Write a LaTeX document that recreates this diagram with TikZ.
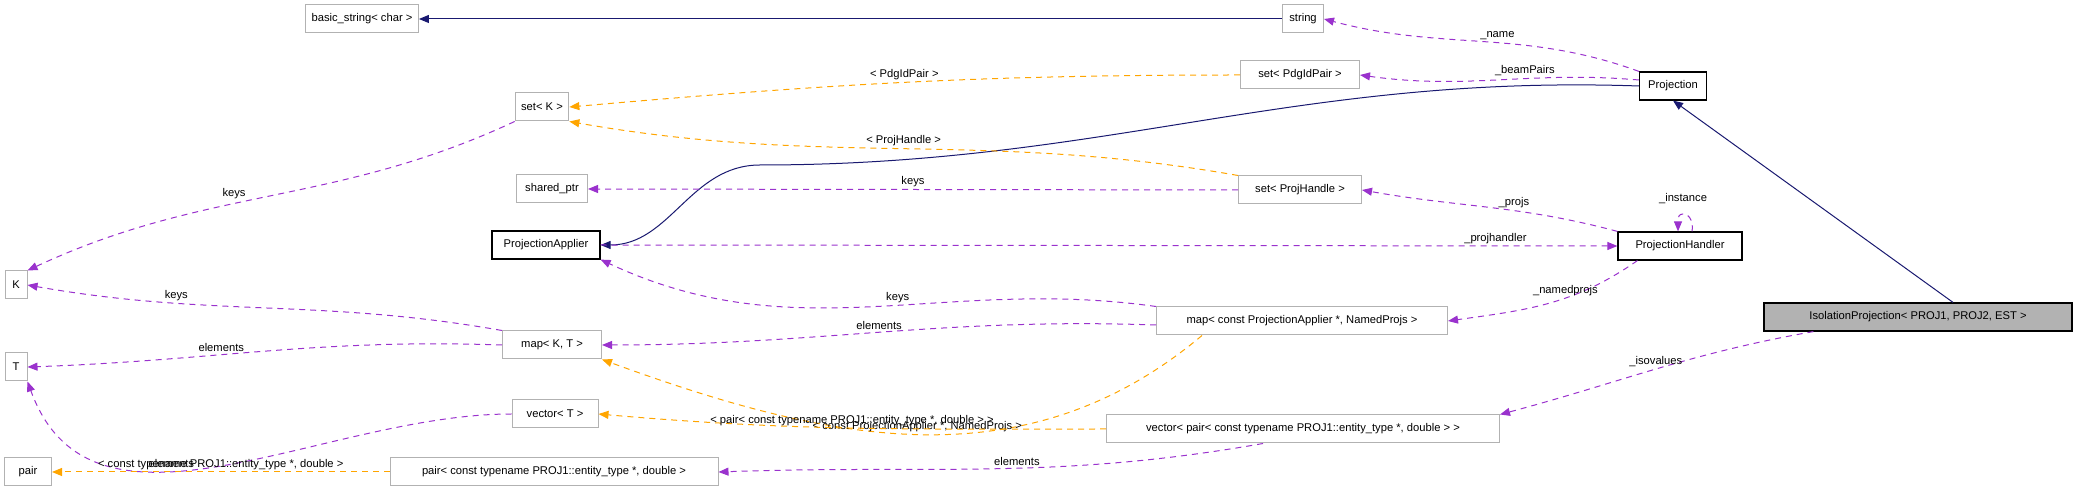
\documentclass[tikz,border=0pt]{standalone}
\usepackage{fontspec}
\setmainfont{Liberation Sans}
\usetikzlibrary{arrows.meta,positioning,calc}
\definecolor{edgenavy}{RGB}{25,25,112}
\definecolor{usepurple}{RGB}{154,50,205}
\definecolor{tmplorange}{RGB}{255,165,0}
\begin{document}
\begin{tikzpicture}[x=0.5pt, y=-0.5pt,
  font=\fontsize{5.6}{6.5}\selectfont,
  cls/.style={draw=gray!60, line width=0.5pt, minimum height=14pt, inner xsep=3pt},
  clsmain/.style={draw=black, line width=0.6pt, minimum height=14pt, inner xsep=3pt},
  inherit/.style={draw=edgenavy, line width=0.5pt, -{Triangle[length=5pt,width=4pt]}},
  usage/.style={draw=usepurple, dashed, dash pattern=on 3pt off 2.5pt, line width=0.5pt, -{Triangle[length=5pt,width=4pt]}},
  tmpl/.style={draw=tmplorange, dashed, dash pattern=on 3pt off 2.5pt, line width=0.5pt, -{Triangle[length=5pt,width=4pt]}},
  lbl/.style={inner sep=1pt}]
  \useasboundingbox (0,0) rectangle (2077,501);
  % classes
  \node[cls, minimum width=45.5pt] (basicstr) at (362,19) {basic\_string< char >};
  \node[cls, minimum width=20.5pt] (str) at (1303,19) {string};
  \node[cls, minimum width=59.5pt] (setpdg) at (1300,75) {set< PdgIdPair >};
  \node[cls, minimum width=26pt] (setk) at (542,107) {set< K >};
  \node[clsmain, minimum width=33.5pt] (proj) at (1673,86) {Projection};
  \node[cls, minimum width=35.5pt] (sptr) at (552,189) {shared\_ptr};
  \node[cls, minimum width=61.5pt] (setph) at (1300,190) {set< ProjHandle >};
  \node[clsmain, minimum width=54pt] (papp) at (546,245) {ProjectionApplier};
  \node[clsmain, minimum width=62pt] (phand) at (1680,246) {ProjectionHandler};
  \node[cls, minimum width=11pt] (k) at (16,285) {K};
  \node[cls, minimum width=145.5pt] (mapnp) at (1302,321) {map< const ProjectionApplier *, NamedProjs >};
  \node[clsmain, fill=gray!60, minimum width=154pt] (iso) at (1918,317) {IsolationProjection< PROJ1, PROJ2, EST >};
  \node[cls, minimum width=49.5pt] (mapkt) at (552,345) {map< K, T >};
  \node[cls, minimum width=11pt] (t) at (16,367) {T};
  \node[cls, minimum width=43pt] (vect) at (555,414) {vector< T >};
  \node[cls, minimum width=196.5pt] (vecpair) at (1303,429) {vector< pair< const typename PROJ1::entity\_type *, double > >};
  \node[cls, minimum width=23.5pt] (pair) at (28,472) {pair};
  \node[cls, minimum width=164pt] (pairct) at (554,472) {pair< const typename PROJ1::entity\_type *, double >};
  % inheritance
  \draw[inherit] (str) -- (basicstr);
  \draw[inherit] ($(iso.north)+(35,0)$) -- (proj.south);
  \draw[inherit] (proj.west) to[out=178,in=0] (760,165) to[out=180,in=0] (papp.east);
  % usage
  \draw[usage] (proj.north west) to[out=160,in=-15] node[lbl, pos=0.45, above] {\_name} (str.east);
  \draw[usage] ($(proj.west)+(0,-6)$) to[out=175,in=-8] node[lbl, pos=0.4, above] {\_beamPairs} (setpdg.east);
  \draw[usage] (setk.south west) to[out=-155,in=25] node[lbl, pos=0.55, above left] {keys} (k.north east);
  \draw[usage] (setph.west) -- node[lbl, above] {keys} (sptr.east);
  \draw[usage] (phand.north west) to[out=165,in=-10] node[lbl, pos=0.4, above] {\_projs} (setph.east);
  \draw[usage] ($(phand.north)+(12,0)$) to[out=80,in=0] (1683,214) to[out=180,in=90] ($(phand.north)+(-2,0)$);
  \node[lbl] (instlbl) at (1683,199) {\_instance};
  \draw[usage] (papp.east) -- node[lbl, above, pos=0.88] {\_projhandler} (phand.west);
  \draw[usage] ($(phand.south west)+(20,0)$) to[out=-145,in=8] node[lbl, pos=0.4, above] {\_namedprojs} (mapnp.east);
  \draw[usage] (mapnp.north west) to[out=172,in=-25] node[lbl, pos=0.45, above] {keys} (papp.south east);
  \draw[usage] ($(mapnp.west)+(0,4)$) to[out=178,in=0] node[lbl, pos=0.5, above] {elements} (mapkt.east);
  \draw[usage] (mapkt.north west) to[out=170,in=-10] node[lbl, pos=0.7, above] {keys} (k.east);
  \draw[usage] (mapkt.west) to[out=178,in=2] node[lbl, pos=0.6, above] {elements} (t.east);
  \draw[usage] (vect.west) to[out=180,in=-70] node[lbl, pos=0.6, above] {elements} (t.south east);
  \draw[usage] ($(vecpair.south)+(-40,0)$) to[out=-170,in=2] node[lbl, pos=0.45, above] {elements} (pairct.east);
  \draw[usage] ($(iso.south west)+(50,0)$) to[out=-170,in=15] node[lbl, pos=0.5, above] {\_isovalues} (vecpair.north east);
  % templates
  \draw[tmpl] (setpdg.west) to[out=180,in=5] node[lbl, pos=0.5, above] {< PdgIdPair >} (setk.east);
  \draw[tmpl] (setph.north west) to[out=170,in=-10] node[lbl, pos=0.5, above] {< ProjHandle >} (setk.south east);
  \draw[tmpl] ($(mapnp.south)+(-100,0)$) to[out=-140,in=-20] node[lbl, pos=0.5, above] {< const ProjectionApplier *, NamedProjs >} (mapkt.south east);
  \draw[tmpl] (vecpair.west) to[out=180,in=-5] node[lbl, pos=0.5, above] {< pair< const typename PROJ1::entity\_type *, double > >} (vect.east);
  \draw[tmpl] (pairct.west) -- node[lbl, above] {< const typename PROJ1::entity\_type *, double >} (pair.east);
\end{tikzpicture}
\end{document}
